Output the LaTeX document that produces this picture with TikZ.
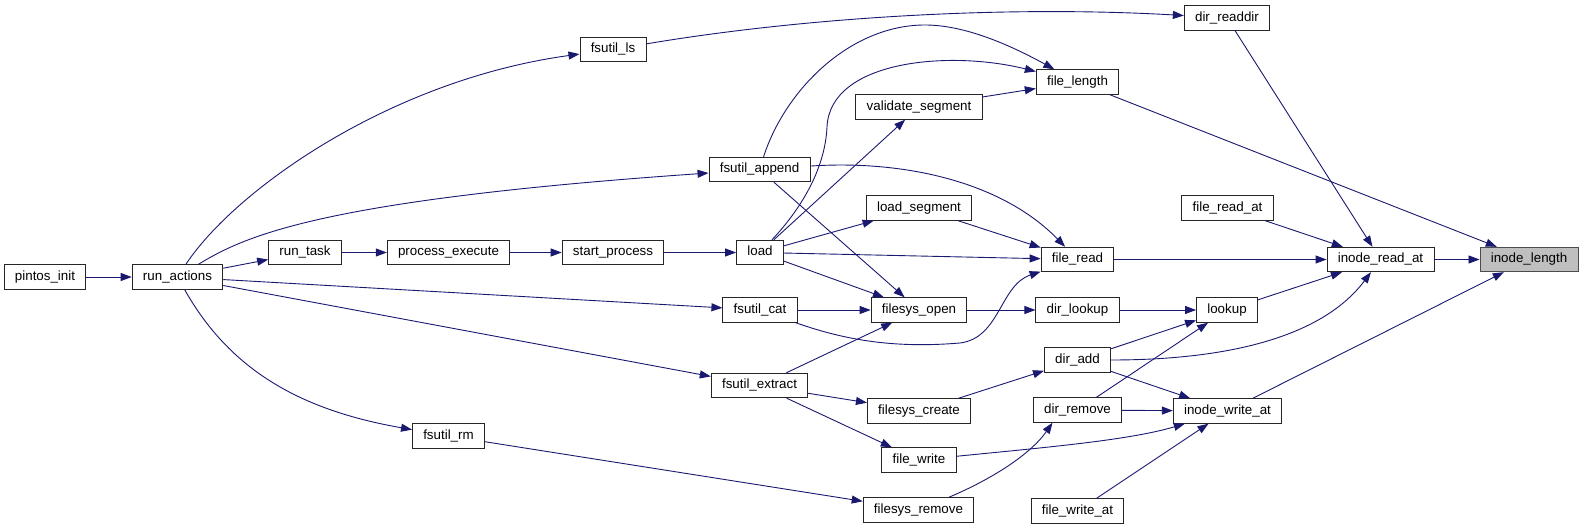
\documentclass[tikz,border=0pt]{standalone}
\usepackage{fontspec}
\setmainfont{Liberation Sans}
\usepackage{xcolor}
\definecolor{edgeblue}{RGB}{25, 25, 112}
\definecolor{rootgray}{RGB}{191, 191, 191}
\usetikzlibrary{arrows.meta}

\begin{document}
\begin{tikzpicture}[x=1bp, y=-1bp, >={Triangle[length=11bp, width=8bp]}, every node/.style={font=\fontsize{13.4}{15}\selectfont},
    fnbox/.style={draw=black!85, rectangle, fill=white, line width=0.9bp, inner xsep=10.8bp, inner ysep=0pt, minimum height=24.5bp, text height=9.6bp, text depth=2.9bp},
    rootbox/.style={fnbox, fill=rootgray, draw=black!70},
    call/.style={->, draw=edgeblue, line width=0.9bp}]
    \useasboundingbox (0,0) rectangle (1590,529);

    \node [fnbox] (pintos_init) at (45,277) {pintos\_init};
    \node [fnbox] (run_actions) at (177.5,277) {run\_actions};
    \node [fnbox] (run_task) at (305,252.5) {run\_task};
    \node [fnbox] (process_execute) at (448.5,252.5) {process\_execute};
    \node [fnbox] (start_process) at (613,252.5) {start\_process};
    \node [fnbox] (load) at (760,252.5) {load};
    \node [fnbox] (fsutil_ls) at (613,49.5) {fsutil\_ls};
    \node [fnbox] (fsutil_append) at (759.5,169.5) {fsutil\_append};
    \node [fnbox] (fsutil_cat) at (760,310) {fsutil\_cat};
    \node [fnbox] (fsutil_extract) at (759.5,385.5) {fsutil\_extract};
    \node [fnbox] (fsutil_rm) at (448.5,436) {fsutil\_rm};
    \node [fnbox] (validate_segment) at (919,107) {validate\_segment};
    \node [fnbox] (load_segment) at (919,208) {load\_segment};
    \node [fnbox] (filesys_open) at (919,310) {filesys\_open};
    \node [fnbox] (filesys_create) at (919,411) {filesys\_create};
    \node [fnbox] (file_write) at (919,460) {file\_write};
    \node [fnbox] (filesys_remove) at (918.5,510) {filesys\_remove};
    \node [fnbox] (dir_readdir) at (1227,18) {dir\_readdir};
    \node [fnbox] (file_length) at (1077.5,82) {file\_length};
    \node [fnbox] (file_read) at (1077.5,259.5) {file\_read};
    \node [fnbox] (dir_lookup) at (1077.5,310) {dir\_lookup};
    \node [fnbox] (dir_add) at (1077.5,360) {dir\_add};
    \node [fnbox] (dir_remove) at (1077.5,410) {dir\_remove};
    \node [fnbox] (file_write_at) at (1077.5,511) {file\_write\_at};
    \node [fnbox] (file_read_at) at (1227.5,208) {file\_read\_at};
    \node [fnbox] (lookup) at (1227,310) {lookup};
    \node [fnbox] (inode_write_at) at (1227.5,411) {inode\_write\_at};
    \node [fnbox] (inode_read_at) at (1380.5,259.5) {inode\_read\_at};
    \node [rootbox] (inode_length) at (1529,259.5) {inode\_length};

    \draw [call] (pintos_init) -- (run_actions);
    \draw [call] (run_actions) -- (run_task);
    \draw [call] (run_task) -- (process_execute);
    \draw [call] (process_execute) -- (start_process);
    \draw [call] (start_process) -- (load);
    \draw [call] (run_actions) .. controls (235,190) and (390,80) .. (fsutil_ls);
    \draw [call] (run_actions) .. controls (245,236) and (320,200) .. (fsutil_append);
    \draw [call] (run_actions) -- (fsutil_cat);
    \draw [call] (run_actions) -- (fsutil_extract);
    \draw [call] (run_actions) .. controls (230,370) and (300,410) .. (fsutil_rm);
    \draw [call] (fsutil_ls) .. controls (800,18) and (1000,5) .. (dir_readdir);
    \draw [call] (fsutil_append) .. controls (785,90) and (850,25) .. (925,25) .. controls (965,25) and (1010,45) .. (file_length);
    \draw [call] (load) .. controls (800,210) and (825,170) .. (827,127) .. controls (830,60) and (950,50) .. (file_length);
    \draw [call] (load) -- (validate_segment);
    \draw [call] (validate_segment) -- (file_length);
    \draw [call] (fsutil_append) .. controls (900,160) and (1000,180) .. (file_read);
    \draw [call] (load) -- (load_segment);
    \draw [call] (load_segment) -- (file_read);
    \draw [call] (load) -- (file_read);
    \draw [call] (load) -- (filesys_open);
    \draw [call] (fsutil_append) -- (filesys_open);
    \draw [call] (fsutil_cat) -- (filesys_open);
    \draw [call] (fsutil_cat) .. controls (850,342) and (900,348) .. (960,343) .. controls (1000,338) and (1000,285) .. (file_read);
    \draw [call] (fsutil_extract) -- (filesys_open);
    \draw [call] (fsutil_extract) -- (filesys_create);
    \draw [call] (fsutil_extract) -- (file_write);
    \draw [call] (fsutil_rm) -- (filesys_remove);
    \draw [call] (filesys_open) -- (dir_lookup);
    \draw [call] (dir_lookup) -- (lookup);
    \draw [call] (filesys_create) -- (dir_add);
    \draw [call] (filesys_remove) .. controls (990,480) and (1030,455) .. ([xshift=-25bp]dir_remove.south);
    \draw [call] (file_write) .. controls (1050,447) and (1130,440) .. (inode_write_at);
    \draw [call] (dir_add) -- (lookup);
    \draw [call] (dir_add) .. controls (1220,360) and (1320,340) .. (inode_read_at);
    \draw [call] (dir_add) -- (inode_write_at);
    \draw [call] (dir_remove) -- (lookup);
    \draw [call] (dir_remove) -- (inode_write_at);
    \draw [call] (file_write_at) -- (inode_write_at);
    \draw [call] (lookup) -- (inode_read_at);
    \draw [call] (file_read_at) -- (inode_read_at);
    \draw [call] (dir_readdir) -- (inode_read_at);
    \draw [call] (file_read) -- (inode_read_at);
    \draw [call] (inode_read_at) -- (inode_length);
    \draw [call] (file_length) -- (inode_length);
    \draw [call] (inode_write_at) -- (inode_length);
\end{tikzpicture}
\end{document}
